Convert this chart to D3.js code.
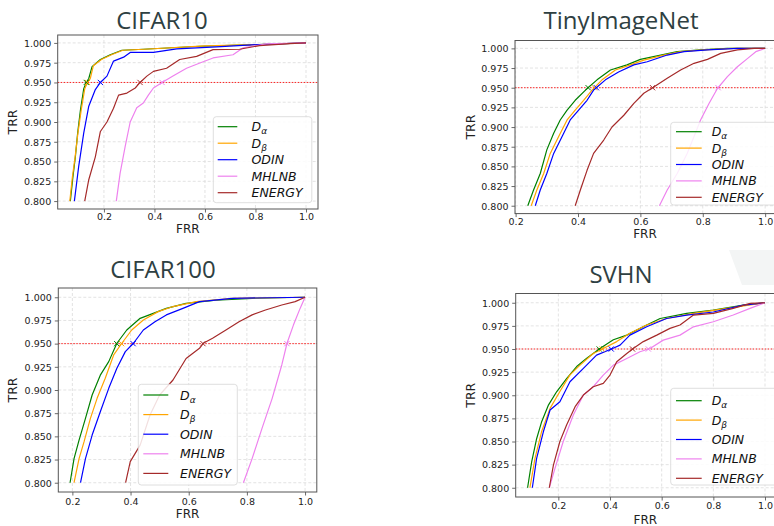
<!DOCTYPE html>
<html>
<head>
<meta charset="utf-8">
<script src="https://cdn.jsdelivr.net/npm/d3@7"></script>
<style>
  body { margin: 0; background: #fff; }
  svg { display: block; }
</style>
</head>
<body>
<div id="chart"></div>
<script>
// legend entries, in plot order
const methods = ["Da", "Db", "ODIN", "MHLNB", "ENERGY"];
const methodColors = ["green", "orange", "blue", "violet", "brown"];
const xTicks = [0.2, 0.4, 0.6, 0.8, 1.0];
const yTicks = [0.800, 0.825, 0.850, 0.875, 0.900, 0.925, 0.950, 0.975, 1.000];
const threshold = 0.95;
const titles = ["CIFAR10", "TinyImageNet", "CIFAR100", "SVHN"];

// [FRR, TRR]
const cifar10Da = [[0.067,0.8],[0.077,0.83],[0.087,0.856],[0.096,0.886],[0.107,0.915],[0.12,0.942],[0.13,0.95],[0.14,0.955],[0.153,0.97],[0.186,0.979],[0.225,0.985],[0.271,0.9907],[0.356,0.992],[0.58,0.9958],[0.816,0.998],[1,1]];
const cifar10Db = [[0.065,0.8],[0.075,0.83],[0.086,0.856],[0.097,0.886],[0.11,0.915],[0.124,0.942],[0.135,0.95],[0.146,0.955],[0.158,0.971],[0.19,0.979],[0.23,0.985],[0.275,0.9907],[0.36,0.992],[0.6,0.9962],[0.816,0.998],[1,1]];
const cifar10Odin = [[0.083,0.8],[0.1,0.8435],[0.12,0.886],[0.14,0.92],[0.166,0.941],[0.186,0.95],[0.212,0.958],[0.238,0.977],[0.278,0.982],[0.304,0.988],[0.396,0.988],[0.488,0.9924],[0.645,0.995],[0.816,0.998],[1,1]];
const cifar10Mhlnb = [[0.249,0.8],[0.264,0.835],[0.284,0.869],[0.304,0.9],[0.33,0.918],[0.356,0.924],[0.376,0.934],[0.396,0.943],[0.435,0.951],[0.475,0.9586],[0.527,0.968],[0.58,0.9746],[0.632,0.981],[0.711,0.985],[0.75,0.9937],[0.843,0.9987],[1,1]];
const cifar10Energy = [[0.124,0.8],[0.14,0.827],[0.166,0.856],[0.186,0.888],[0.212,0.9],[0.238,0.9175],[0.258,0.934],[0.291,0.9366],[0.324,0.943],[0.343,0.95],[0.37,0.958],[0.396,0.964],[0.448,0.968],[0.5,0.979],[0.567,0.983],[0.632,0.9915],[0.737,0.992],[0.816,0.9966],[0.935,0.999],[1,1]];

const tinyDa = [[0.239,0.8],[0.2575,0.82],[0.279,0.841],[0.3,0.871],[0.322,0.892],[0.343,0.909],[0.365,0.9216],[0.391,0.934],[0.424,0.947],[0.461,0.96],[0.504,0.9725],[0.557,0.979],[0.6,0.986],[0.665,0.9915],[0.718,0.9958],[0.793,0.998],[0.879,1],[1,1]];
const tinyDb = [[0.25,0.8],[0.268,0.82],[0.29,0.841],[0.311,0.8665],[0.338,0.888],[0.365,0.909],[0.391,0.9216],[0.418,0.934],[0.445,0.947],[0.477,0.96],[0.52,0.9725],[0.568,0.979],[0.611,0.985],[0.675,0.9915],[0.729,0.9958],[0.804,0.998],[0.9,1],[1,1]];
const tinyOdin = [[0.263,0.8],[0.279,0.82],[0.3,0.841],[0.322,0.8665],[0.349,0.888],[0.375,0.909],[0.402,0.9216],[0.429,0.934],[0.45,0.947],[0.488,0.96],[0.53,0.97],[0.579,0.979],[0.622,0.983],[0.686,0.9915],[0.74,0.9958],[0.815,0.998],[0.911,1],[1,1]];
const tinyMhlnb = [[0.661,0.8],[0.686,0.82],[0.718,0.841],[0.75,0.8665],[0.772,0.888],[0.793,0.909],[0.82,0.93],[0.847,0.949],[0.879,0.964],[0.911,0.9767],[0.943,0.987],[0.97,0.9958],[1,1]];
const tinyEnergy = [[0.391,0.8],[0.4075,0.82],[0.429,0.845],[0.45,0.8665],[0.4825,0.8835],[0.509,0.9],[0.547,0.915],[0.579,0.93],[0.611,0.943],[0.643,0.951],[0.686,0.962],[0.729,0.9725],[0.772,0.981],[0.815,0.986],[0.8575,0.9936],[0.911,0.998],[0.965,1],[1,1]];

const cifar100Da = [[0.192,0.8],[0.2057,0.826],[0.223,0.846],[0.245,0.8694],[0.268,0.8946],[0.296,0.916],[0.325,0.9306],[0.353,0.9504],[0.387,0.9647],[0.433,0.9773],[0.478,0.9827],[0.523,0.988],[0.591,0.9935],[0.694,0.997],[0.818,0.9989],[1,1]];
const cifar100Db = [[0.2057,0.8],[0.223,0.826],[0.24,0.844],[0.262,0.8694],[0.285,0.891],[0.313,0.9126],[0.342,0.9378],[0.37,0.9504],[0.404,0.9647],[0.444,0.9755],[0.495,0.9845],[0.546,0.99],[0.626,0.9953],[0.75,0.9989],[1,1]];
const cifar100Odin = [[0.228,0.8],[0.245,0.826],[0.268,0.8514],[0.296,0.8766],[0.325,0.9018],[0.353,0.9234],[0.382,0.9414],[0.41,0.9504],[0.444,0.9647],[0.484,0.9737],[0.523,0.981],[0.58,0.988],[0.637,0.9953],[0.75,0.9989],[1,1]];
const cifar100Mhlnb = [[0.788,0.8],[0.818,0.826],[0.852,0.8586],[0.887,0.891],[0.92,0.927],[0.938,0.9504],[0.96,0.97],[0.983,0.988],[1,1]];
const cifar100Energy = [[0.383,0.8],[0.399,0.8227],[0.433,0.8406],[0.467,0.873],[0.5,0.8946],[0.546,0.9108],[0.591,0.934],[0.637,0.945],[0.65,0.9504],[0.682,0.9558],[0.728,0.9647],[0.773,0.9737],[0.818,0.981],[0.864,0.9863],[0.92,0.9917],[0.966,0.9953],[1,1]];

const svhnDa = [[0.081,0.8],[0.0968,0.828],[0.116,0.853],[0.135,0.871],[0.161,0.889],[0.194,0.904],[0.232,0.918],[0.271,0.931],[0.31,0.94],[0.361,0.9506],[0.413,0.96],[0.465,0.965],[0.542,0.976],[0.594,0.983],[0.697,0.9885],[0.8,0.992],[0.916,0.9975],[1,1]];
const svhnDb = [[0.09,0.8],[0.1097,0.8317],[0.135,0.8605],[0.168,0.8858],[0.206,0.904],[0.245,0.922],[0.284,0.9326],[0.335,0.9452],[0.374,0.9506],[0.426,0.958],[0.477,0.967],[0.542,0.976],[0.619,0.983],[0.723,0.9885],[0.852,0.9939],[1,1]];
const svhnOdin = [[0.0994,0.8],[0.116,0.8317],[0.142,0.8605],[0.168,0.884],[0.206,0.893],[0.245,0.9146],[0.297,0.929],[0.348,0.9434],[0.41,0.9506],[0.439,0.9542],[0.477,0.965],[0.542,0.974],[0.619,0.983],[0.697,0.9867],[0.8,0.99],[0.916,0.9975],[1,1]];
const svhnMhlnb = [[0.165,0.8],[0.187,0.821],[0.219,0.85],[0.258,0.8786],[0.297,0.9002],[0.335,0.9092],[0.374,0.9218],[0.413,0.9326],[0.465,0.9398],[0.516,0.947],[0.555,0.9506],[0.606,0.9596],[0.671,0.965],[0.723,0.974],[0.8,0.9795],[0.877,0.9867],[0.942,0.9939],[1,1]];
const svhnEnergy = [[0.165,0.8],[0.181,0.8245],[0.206,0.85],[0.232,0.8678],[0.265,0.8876],[0.297,0.9002],[0.335,0.9092],[0.374,0.9128],[0.4,0.9218],[0.426,0.9362],[0.465,0.9452],[0.49,0.9506],[0.529,0.958],[0.581,0.965],[0.632,0.9723],[0.671,0.9759],[0.723,0.9867],[0.8,0.9885],[0.877,0.9939],[0.942,0.9993],[1,1]];

const W = 774, H = 526;

// pixel layout of the four axes
const panels = [
  { title: titles[0], series: [cifar10Da, cifar10Db, cifar10Odin, cifar10Mhlnb, cifar10Energy],
    xDom: [0.017, 1.0475], xRange: [57.7, 318], yRange: [209, 35],
    titleX: 162, titleY: 28.5, tickPad: 11, xLabelY: 232.5, yLabelX: 12.5,
    legend: { x: 213.3, y: 116.7, w: 98.5, h: 86, row0: 126.7, step: 16.5, l0: 217.7, l1: 237.3, tx: 251.5 } },
  { title: titles[1], series: [tinyDa, tinyDb, tinyOdin, tinyMhlnb, tinyEnergy],
    xDom: [0.198, 1.038], xRange: [515, 777], yRange: [213.6, 40.5],
    titleX: 621, titleY: 28.5, tickPad: 11.3, xLabelY: 238.3, yLabelX: 471,
    legend: { x: 670.7, y: 122.3, w: 110, h: 82.7, row0: 131.7, step: 16.4, l0: 676, l1: 701.7, tx: 711.7 } },
  { title: titles[2], series: [cifar100Da, cifar100Db, cifar100Odin, cifar100Mhlnb, cifar100Energy],
    xDom: [0.1516, 1.0404], xRange: [58.3, 316.8], yRange: [492, 288],
    titleX: 163, titleY: 278.3, tickPad: 12.5, xLabelY: 518, yLabelX: 12.5,
    legend: { x: 138.3, y: 384.3, w: 99, h: 100.7, row0: 395, step: 19.6, l0: 143.3, l1: 168.3, tx: 180 } },
  { title: titles[3], series: [svhnDa, svhnDb, svhnOdin, svhnMhlnb, svhnEnergy],
    xDom: [0.035, 1.046], xRange: [515.7, 776.9], yRange: [497, 293.5],
    titleX: 621, titleY: 283.3, tickPad: 12, xLabelY: 523.5, yLabelX: 471,
    legend: { x: 670.7, y: 388.3, w: 110, h: 96.7, row0: 400.7, step: 19.4, l0: 676, l1: 701.7, tx: 711.7 } }
];

const svg = d3.select("#chart").append("svg")
  .attr("width", W).attr("height", H)
  .style("font-family", "'DejaVu Sans', sans-serif");

// faint slide decoration behind the SVHN title
svg.append("path")
  .attr("d", "M729,250 L774,250 L774,285 L742,285 Z")
  .attr("fill", "#f3f5f5");

function crossAt(pts, t) {
  for (let i = 1; i < pts.length; i++) {
    if (pts[i][1] >= t) {
      const [x0, y0] = pts[i - 1], [x1, y1] = pts[i];
      return x0 + (x1 - x0) * (t - y0) / (y1 - y0);
    }
  }
  return pts[pts.length - 1][0];
}

panels.forEach((p, pi) => {
  const x = d3.scaleLinear().domain(p.xDom).range(p.xRange);
  const y = d3.scaleLinear().domain([0.79, 1.01]).range(p.yRange);
  const [L, R] = p.xRange, [B, T] = p.yRange;
  const g = svg.append("g");

  g.append("text").attr("x", p.titleX).attr("y", p.titleY)
    .attr("text-anchor", "middle")
    .style("font-family", "'Open Sans', 'Noto Sans', sans-serif")
    .style("font-size", "24px").attr("fill", "#2e4042")
    .text(p.title);

  const clipId = "clip" + pi;
  g.append("clipPath").attr("id", clipId).append("rect")
    .attr("x", L).attr("y", T).attr("width", R - L).attr("height", B - T);

  // grid
  const grid = g.append("g").attr("stroke", "#dcdcdc").attr("stroke-width", 0.8)
    .attr("stroke-dasharray", "3,2");
  grid.selectAll(".gx").data(xTicks).join("line")
    .attr("x1", d => x(d)).attr("x2", d => x(d)).attr("y1", T).attr("y2", B);
  grid.selectAll(".gy").data(yTicks).join("line")
    .attr("y1", d => y(d)).attr("y2", d => y(d)).attr("x1", L).attr("x2", R);

  // axes
  const xAxis = d3.axisBottom(x).tickValues(xTicks).tickSize(3.5).tickPadding(2)
    .tickFormat(d3.format(".1f"));
  const yAxis = d3.axisLeft(y).tickValues(yTicks).tickSize(3.5).tickPadding(3)
    .tickFormat(d3.format(".3f"));
  const gx = g.append("g").attr("transform", `translate(0,${B})`).call(xAxis);
  const gy = g.append("g").attr("transform", `translate(${L},0)`).call(yAxis);
  [gx, gy].forEach(a => {
    a.select(".domain").remove();
    a.selectAll("line").attr("stroke", "#444").attr("stroke-width", 0.8);
    a.selectAll("text").attr("fill", "#222").style("font-size", "9.5px")
      .style("font-family", "'DejaVu Sans', sans-serif");
  });
  gx.selectAll("text").attr("dy", null).attr("y", p.tickPad);
  gy.selectAll("text").attr("dy", "0.35em");

  // threshold line
  g.append("line").attr("x1", L).attr("x2", R)
    .attr("y1", y(threshold)).attr("y2", y(threshold))
    .attr("stroke", "red").attr("stroke-opacity", 0.85).attr("stroke-width", 1)
    .attr("stroke-dasharray", "1.5,1.5");

  // curves
  const line = d3.line().x(d => x(d[0])).y(d => y(d[1]));
  const curves = g.append("g").attr("clip-path", `url(#${clipId})`);
  p.series.forEach((s, i) => {
    curves.append("path").datum(s).attr("d", line)
      .attr("fill", "none").attr("stroke", methodColors[i])
      .attr("stroke-width", 1.2).attr("stroke-linejoin", "round");
  });
  p.series.forEach((s, i) => {
    const cx = x(crossAt(s, threshold)), cy = y(threshold), r = 2.6;
    curves.append("path")
      .attr("d", `M${cx - r},${cy - r}L${cx + r},${cy + r}M${cx - r},${cy + r}L${cx + r},${cy - r}`)
      .attr("stroke", methodColors[i]).attr("stroke-width", 1);
  });

  // frame
  g.append("rect").attr("x", L).attr("y", T).attr("width", R - L).attr("height", B - T)
    .attr("fill", "none").attr("stroke", "#555").attr("stroke-width", 1);

  // axis labels
  g.append("text").attr("x", (L + Math.min(R, W + 3)) / 2 + (pi % 2 ? -1 : 0)).attr("y", p.xLabelY)
    .attr("text-anchor", "middle").style("font-size", "12px").attr("fill", "#222")
    .text("FRR");
  g.append("text").attr("transform", `translate(${p.yLabelX},${(T + B) / 2}) rotate(-90)`)
    .attr("text-anchor", "middle").attr("dy", "0.35em")
    .style("font-size", "12.5px").attr("fill", "#222").text("TRR");

  // legend
  const lg = p.legend;
  const leg = g.append("g");
  leg.append("rect").attr("x", lg.x).attr("y", lg.y).attr("width", lg.w).attr("height", lg.h)
    .attr("rx", 3).attr("fill", "#fff").attr("fill-opacity", 0.85)
    .attr("stroke", "#d6d6d6").attr("stroke-width", 0.8);
  methods.forEach((m, i) => {
    const ry = lg.row0 + i * lg.step;
    leg.append("line").attr("x1", lg.l0).attr("x2", lg.l1).attr("y1", ry).attr("y2", ry)
      .attr("stroke", methodColors[i]).attr("stroke-width", 1.2);
    const t = leg.append("text").attr("x", lg.tx).attr("y", ry).attr("dy", "0.36em")
      .style("font-size", "12.5px").style("font-style", "italic").attr("fill", "#111");
    if (m === "Da" || m === "Db") {
      t.append("tspan").text("D");
      t.append("tspan").attr("dy", "3").style("font-size", "9px").text(m === "Da" ? "α" : "β");
    } else {
      t.text(m);
    }
  });
});
</script>
</body>
</html>
